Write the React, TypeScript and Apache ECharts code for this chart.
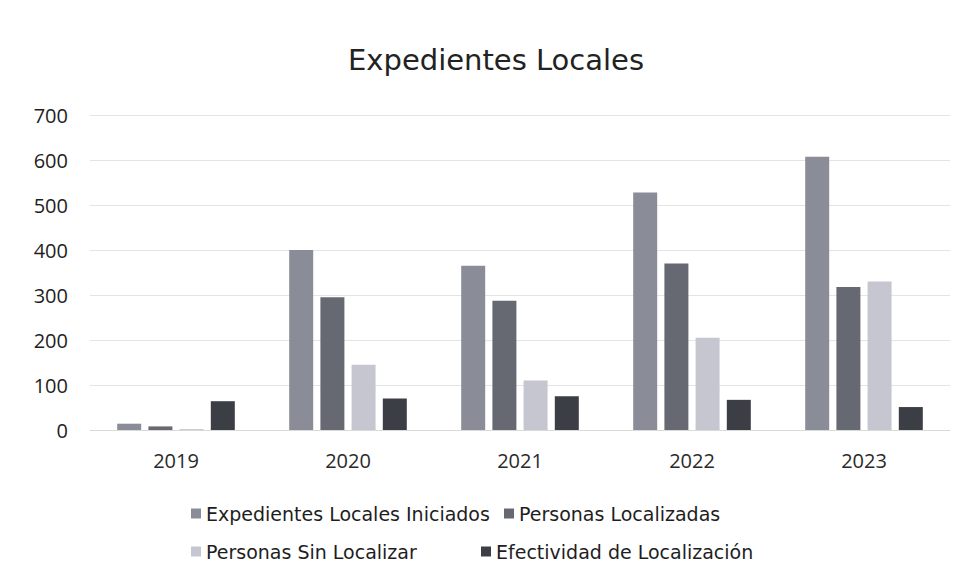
import React, { useEffect, useRef } from "react";
import * as echarts from "echarts";

const categories = ["2019", "2020", "2021", "2022", "2023"];
const seriesNames = [
  "Expedientes Locales Iniciados",
  "Personas Localizadas",
  "Personas Sin Localizar",
  "Efectividad de Localización",
];
const expedientes = [14, 400, 365, 528, 607];
const localizadas = [8, 295, 287, 370, 318];
const sinLocalizar = [2, 145, 110, 205, 330];
const efectividad = [64, 70, 75, 67, 51];
const colors = ["#8a8c98", "#666972", "#c6c6d1", "#3b3e44"];

const FONT = "'Open Sans', sans-serif";
const WIDE = "'DejaVu Sans', sans-serif";

export default function App() {
  const ref = useRef<HTMLDivElement>(null);
  useEffect(() => {
    if (!ref.current) return;
    const chart = echarts.init(ref.current, undefined, { renderer: "svg" });
    const values = [expedientes, localizadas, sinLocalizar, efectividad];
    const legendPos = [
      { left: 191, top: 504 },
      { left: 504, top: 504 },
      { left: 191, top: 542 },
      { left: 481, top: 542 },
    ];
    chart.setOption({
      animation: false,
      backgroundColor: "#ffffff",
      color: colors,
      title: {
        text: "Expedientes Locales",
        left: 343,
        top: 40,
        textStyle: { fontFamily: WIDE, fontSize: 29, fontWeight: "normal", color: "#222" },
      },
      legend: seriesNames.map((n, i) => ({
        data: [n],
        left: legendPos[i].left,
        top: legendPos[i].top,
        padding: 0,
        icon: "rect",
        itemWidth: 10,
        itemHeight: 10,
        selectedMode: false,
        textStyle: { fontFamily: WIDE, fontSize: 19, color: "#1e1e1e" },
      })),
      grid: { left: 90, right: 16, top: 115, bottom: 157, containLabel: false },
      xAxis: {
        type: "category",
        data: categories,
        axisLine: { lineStyle: { color: "#d9d9d9" } },
        axisTick: { show: false },
        axisLabel: { fontFamily: FONT, fontSize: 20, color: "#2a2a2a", margin: 20 },
      },
      yAxis: {
        type: "value",
        min: 0,
        max: 700,
        interval: 100,
        axisLine: { show: false },
        axisTick: { show: false },
        splitLine: { lineStyle: { color: "#e4e4e4" } },
        axisLabel: { fontFamily: FONT, fontSize: 20, color: "#1e1e1e", margin: 22 },
      },
      series: seriesNames.map((n, i) => ({
        name: n,
        type: "bar",
        data: values[i],
        barWidth: 24,
        barGap: "30%",
        itemStyle: { color: colors[i] },
      })),
    });
    return () => chart.dispose();
  }, []);
  return (
    <div
      ref={ref}
      style={{ position: "fixed", left: 0, top: 0, width: 966, height: 587 }}
    />
  );
}
